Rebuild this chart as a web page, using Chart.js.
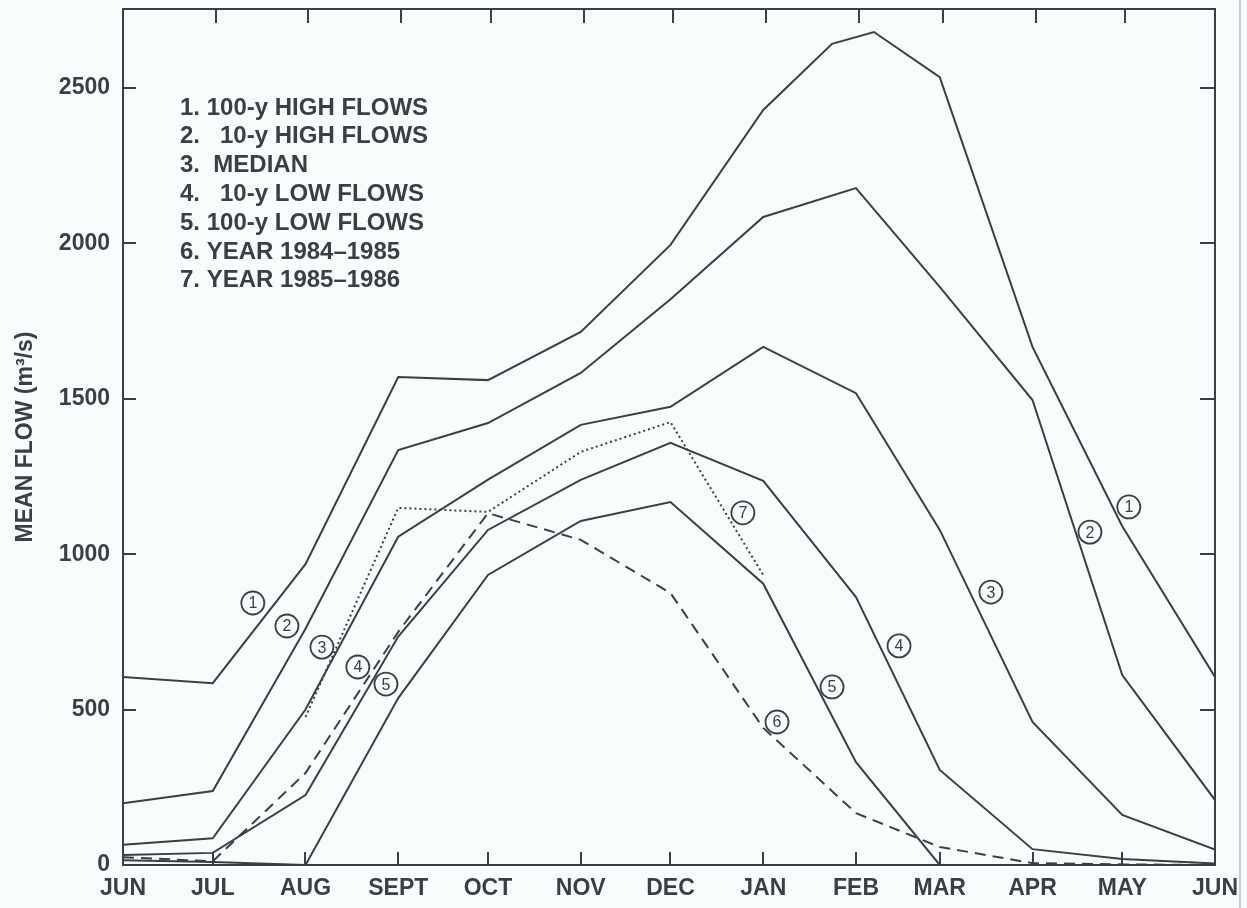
<!DOCTYPE html>
<html>
<head>
<meta charset="utf-8">
<script src="https://cdn.jsdelivr.net/npm/chart.js@4.4.0/dist/chart.umd.min.js"></script>
<style>
html,body{margin:0;padding:0;background:#f9fcfc;}
#wrap{position:relative;width:1247px;height:908px;overflow:hidden;}
#edge{position:absolute;left:1239px;top:0;width:2px;height:908px;background:#c9cdd2;}
canvas{display:block;}
</style>
</head>
<body>
<div id="wrap"><canvas id="c" width="1247" height="908"></canvas><div id="edge"></div></div>
<script>
// ---- categories / ticks ----
const monthLabels = ['JUN','JUL','AUG','SEPT','OCT','NOV','DEC','JAN','FEB','MAR','APR','MAY','JUN'];
const monthDays   = [0, 30, 61, 92, 122, 153, 183, 214, 245, 273, 304, 334, 365];
const yTickValues = [0, 500, 1000, 1500, 2000, 2500];

// ---- series values (m3/s) ----
const high100Days = [0, 30, 61, 92, 122, 153, 183, 214, 237, 251, 273, 304, 334, 365];
const high100     = [605, 585, 968, 1570, 1560, 1715, 1995, 2429, 2642, 2680, 2535, 1667, 1090, 605];
const high10      = [199, 238, 760, 1335, 1422, 1583, 1820, 2085, 2178, 1860, 1496, 611, 209];
const median      = [65, 86, 500, 1056, 1240, 1416, 1474, 1667, 1518, 1078, 460, 161, 50];
const low10       = [32, 39, 225, 735, 1078, 1239, 1358, 1236, 862, 306, 51, 19, 5];
const low100      = [15, 10, 0, 537, 933, 1107, 1168, 905, 331, 0, 0, 0, 0];
const year8485    = [25, 12, 296, 750, 1132, 1046, 875, 441, 167, 58, 6, 2, 0];
const year8586    = [null, null, 476, 1149, 1136, 1329, 1425, 933, null, null, null, null, null];

const legendLines = [
  '1. 100-y HIGH FLOWS',
  '2.   10-y HIGH FLOWS',
  '3.  MEDIAN',
  '4.   10-y LOW FLOWS',
  '5. 100-y LOW FLOWS',
  '6. YEAR 1984\u20131985',
  '7. YEAR 1985\u20131986'
];

// circled curve numbers, positioned in data units (day, flow)
const circleNums = ['1','2','3','4','5','7','6','5','4','3','2','1'];
const circleDays = [43.4, 54.8, 66.5, 78.5, 87.9, 207.2, 218.6, 237.0, 259.4, 290.1, 323.2, 336.2];
const circleFlow = [843, 769, 701, 637, 582, 1133, 460, 573, 705, 878, 1071, 1152];

const INK = '#3c3f41';
const FONT = '"Liberation Sans", Arial, sans-serif';

function pts(days, vals) {
  const out = [];
  for (let i = 0; i < vals.length; i++) if (vals[i] !== null) out.push({x: days[i], y: vals[i]});
  return out;
}
function ds(label, data, dash, width) {
  return {label, data, borderColor: INK, borderWidth: width || 2, borderDash: dash || [],
          pointRadius: 0, fill: false, tension: 0, borderCapStyle: 'butt', borderJoinStyle: 'miter'};
}

const decor = {
  id: 'decor',
  afterDraw(chart) {
    const ctx = chart.ctx, a = chart.chartArea;
    const xs = chart.scales.x, ys = chart.scales.y;
    ctx.save();
    ctx.strokeStyle = INK;
    ctx.lineWidth = 2;
    ctx.strokeRect(a.left, a.top, a.right - a.left, a.bottom - a.top);
    ctx.beginPath();
    xs.ticks.forEach(t => {
      const px = Math.round(xs.getPixelForValue(t.value));
      if (t.value === 0 || t.value === 365) return;
      ctx.moveTo(px, a.bottom); ctx.lineTo(px, a.bottom - 13);
      ctx.moveTo(px + 3, a.top); ctx.lineTo(px + 3, a.top + 14);
    });
    ys.ticks.forEach(t => {
      if (t.value === 0) return;
      const py = Math.round(ys.getPixelForValue(t.value));
      ctx.moveTo(a.left, py); ctx.lineTo(a.left + 13, py);
      ctx.moveTo(a.right, py); ctx.lineTo(a.right - 15, py);
    });
    ctx.stroke();

    // legend text block
    ctx.fillStyle = INK;
    ctx.font = 'bold 24px ' + FONT;
    ctx.textBaseline = 'middle';
    ctx.textAlign = 'left';
    legendLines.forEach((s, i) => ctx.fillText(s, a.left + 57, 108 + i * 28.8));

    // circled numbers
    ctx.lineWidth = 1.8;
    ctx.font = '16px ' + FONT;
    ctx.textAlign = 'center';
    for (let i = 0; i < circleNums.length; i++) {
      const cx = xs.getPixelForValue(circleDays[i]);
      const cy = ys.getPixelForValue(circleFlow[i]);
      ctx.beginPath();
      ctx.arc(cx, cy, 11.5, 0, Math.PI * 2);
      ctx.stroke();
      ctx.fillText(circleNums[i], cx, cy + 1);
    }
    ctx.restore();
  }
};

new Chart(document.getElementById('c'), {
  type: 'line',
  data: {
    datasets: [
      ds('1. 100-y HIGH FLOWS', pts(high100Days, high100)),
      ds('2. 10-y HIGH FLOWS', pts(monthDays, high10)),
      ds('3. MEDIAN', pts(monthDays, median)),
      ds('4. 10-y LOW FLOWS', pts(monthDays, low10)),
      ds('5. 100-y LOW FLOWS', pts(monthDays, low100)),
      ds('6. YEAR 1984-1985', pts(monthDays, year8485), [11, 7]),
      ds('7. YEAR 1985-1986', pts(monthDays, year8586), [2, 3], 2)
    ]
  },
  options: {
    responsive: false,
    animation: false,
    devicePixelRatio: 1,
    layout: {padding: {top: 9, right: 32, left: 0, bottom: 0}},
    plugins: {legend: {display: false}, tooltip: {enabled: false}},
    scales: {
      x: {
        type: 'linear', min: 0, max: 365, position: 'bottom',
        afterBuildTicks: s => { s.ticks = monthDays.map(v => ({value: v})); },
        afterFit: s => { s.height = 43; s.paddingLeft = 0; s.paddingRight = 0; },
        grid: {display: false, drawTicks: false},
        border: {display: false},
        ticks: {
          autoSkip: false, maxRotation: 0, padding: 10, color: INK,
          font: {family: FONT, size: 23, weight: 'bold'},
          callback: v => monthLabels[monthDays.indexOf(v)]
        }
      },
      y: {
        type: 'linear', min: 0, max: 2754,
        afterBuildTicks: s => { s.ticks = yTickValues.map(v => ({value: v})); },
        afterFit: s => { s.width = 123; s.paddingTop = 0; s.paddingBottom = 0; },
        grid: {display: false, drawTicks: false},
        border: {display: false},
        ticks: {padding: 13, color: INK, font: {family: FONT, size: 23, weight: 'bold'},
                callback: v => String(v)},
        title: {display: true, text: 'MEAN FLOW (m\u00b3/s)', color: INK,
                font: {family: FONT, size: 23, weight: 'bold'}, padding: {top: 12, bottom: 0}}
      }
    }
  },
  plugins: [decor]
});
</script>
</body>
</html>
